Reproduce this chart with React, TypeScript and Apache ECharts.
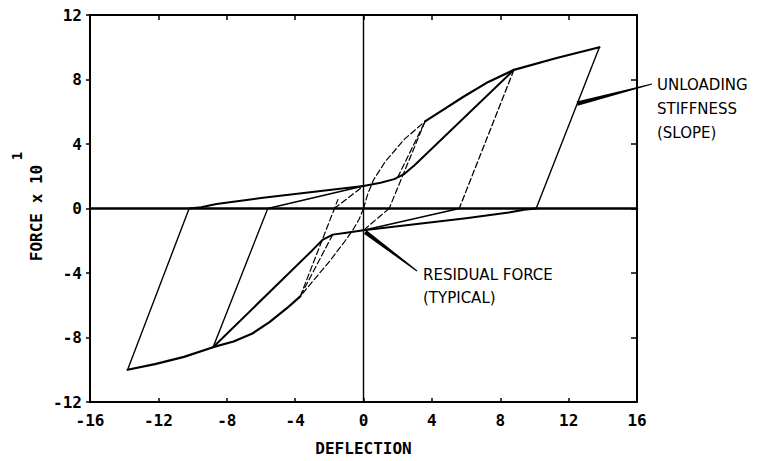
import React, { useEffect, useRef } from "react";
import * as echarts from "echarts";

// Axis ranges
const xRange = [-16, 16];
const yRange = [-12, 12];
const tickStep = 4;

// Reference lines through the origin
const zeroLineH = [[-16, 0], [16, 0]];
const zeroLineV = [[0, -12], [0, 12]];

// Backbone (envelope) curves: initial part (first small cycle) and outer part
const backbonePosInitial = [[0, 0], [0.25, 0.9], [0.6, 1.8], [1.3, 2.95], [2.4, 4.3], [3.6, 5.4]];
const backbonePos = [[3.6, 5.4], [4.7, 6.15], [5.8, 6.9], [7.3, 7.85], [8.8, 8.6], [11.3, 9.33], [13.8, 10]];
const backboneNegInitial = [[0, 0], [-0.25, -0.65], [-0.6, -1.3], [-1.0, -1.9], [-2.0, -3.3], [-3.0, -4.55], [-3.7, -5.45]];
const backboneNeg = [[-3.7, -5.45], [-4.5, -6.2], [-5.5, -7.05], [-6.5, -7.75], [-7.6, -8.25], [-8.8, -8.6], [-10.5, -9.2], [-12.2, -9.65], [-13.8, -10]];

// Unloading branches (from peaks to zero force)
const unloadPosBig = [[13.8, 10], [10.1, 0]];
const unloadPosMid = [[8.8, 8.6], [5.6, 0]];
const unloadPosSmall = [[3.6, 5.4], [1.5, 0]];
const unloadNegBig = [[-13.8, -10], [-10.2, 0]];
const unloadNegMid = [[-8.8, -8.6], [-5.6, 0]];
const unloadNegSmall = [[-3.7, -5.45], [-1.7, 0], [-1.5, 0.55]];

// Reloading towards residual force (positive side)
const toPosResidualBig = [[-10.2, 0], [-9.5, 0.08], [-8.6, 0.28], [-6, 0.65], [-3, 1.02], [0, 1.4]];
const toPosResidualMid = [[-5.6, 0], [0, 1.4]];
const toPosResidualSmall = [[-1.7, 0], [0, 1.4]];
const posReloadPath = [[0, 1.4], [1.0, 1.6], [1.8, 1.82], [2.4, 2.15], [3.0, 2.7], [8.8, 8.6]];
const smallReloadPos = [[2.0, 1.93], [3.6, 5.4]];

// Reloading towards residual force (negative side)
const toNegResidualBig = [[10.1, 0], [9.4, -0.08], [8.5, -0.25], [6, -0.6], [3, -0.98], [0, -1.35]];
const toNegResidualMid = [[5.6, 0], [0, -1.35]];
const toNegResidualSmall = [[1.5, 0], [0, -1.35]];
const negReloadPath = [[0, -1.35], [-1.0, -1.5], [-1.8, -1.62], [-2.4, -1.95], [-3.0, -2.6], [-8.8, -8.6]];
const smallReloadNeg = [[-1.8, -1.62], [-3.7, -5.45]];

// Annotation anchor points (data coordinates)
const unloadingAnchor = [12.5, 6.5];
const residualAnchor = [0.1, -1.45];

const MONO = '"DejaVu Sans Mono", monospace';
const SANS = '"DejaVu Sans", sans-serif';

function ln(data: number[][], width: number, dashed = false) {
  return {
    type: "line",
    data,
    showSymbol: false,
    silent: true,
    z: 3,
    lineStyle: { color: "#000", width, type: dashed ? [6, 3] : "solid", cap: "round", join: "round" },
  };
}

function wedge(from: number[], to: number[], w0: number, w1: number) {
  const dx = to[0] - from[0];
  const dy = to[1] - from[1];
  const len = Math.sqrt(dx * dx + dy * dy) || 1;
  const nx = -dy / len;
  const ny = dx / len;
  return [
    [from[0] + nx * w0, from[1] + ny * w0],
    [to[0] + nx * w1, to[1] + ny * w1],
    [to[0] - nx * w1, to[1] - ny * w1],
    [from[0] - nx * w0, from[1] - ny * w0],
  ];
}

export default function App() {
  const ref = useRef<HTMLDivElement>(null);
  useEffect(() => {
    const chart = echarts.init(ref.current!, null, { renderer: "svg" });
    const axisLine = { show: true, onZero: false, lineStyle: { color: "#000", width: 2 } };
    const tickLabel = { color: "#000", fontFamily: MONO, fontWeight: "bold", fontSize: 16 };
    chart.setOption({
      animation: false,
      backgroundColor: "#fff",
      grid: { left: 90, top: 15, right: 123, bottom: 57 },
      xAxis: [
        {
          type: "value", min: xRange[0], max: xRange[1], interval: tickStep, position: "bottom",
          axisLine, axisTick: { show: true, inside: true, length: 4, lineStyle: { color: "#000", width: 1.5 } },
          axisLabel: { ...tickLabel, margin: 10 }, splitLine: { show: false },
          name: "DEFLECTION", nameLocation: "middle", nameGap: 38,
          nameTextStyle: { color: "#000", fontFamily: MONO, fontWeight: "bold", fontSize: 16 },
        },
        {
          type: "value", min: xRange[0], max: xRange[1], interval: tickStep, position: "top",
          axisLine, axisTick: { show: true, inside: true, length: 5, lineStyle: { color: "#000", width: 1.5 } },
          axisLabel: { show: false }, splitLine: { show: false },
        },
      ],
      yAxis: [
        {
          type: "value", min: yRange[0], max: yRange[1], interval: tickStep, position: "left",
          axisLine, axisTick: { show: true, inside: false, length: 4, lineStyle: { color: "#000", width: 1.5 } },
          axisLabel: { ...tickLabel, margin: 8 }, splitLine: { show: false },
        },
        {
          type: "value", min: yRange[0], max: yRange[1], interval: tickStep, position: "right",
          axisLine, axisTick: { show: true, inside: true, length: 6, lineStyle: { color: "#000", width: 1.5 } },
          axisLabel: { show: false }, splitLine: { show: false },
        },
      ],
      series: [
        ln(zeroLineH, 2.4),
        ln(zeroLineV, 1.4),
        ln(backbonePosInitial, 1.2, true),
        ln(backbonePos, 2.2),
        ln(backboneNegInitial, 1.2, true),
        ln(backboneNeg, 2.2),
        ln(unloadPosBig, 1.4),
        ln(unloadPosMid, 1.3, true),
        ln(unloadPosSmall, 1.2, true),
        ln(unloadNegBig, 1.4),
        ln(unloadNegMid, 1.4),
        ln(unloadNegSmall, 1.2, true),
        ln(toPosResidualBig, 2),
        ln(toPosResidualMid, 1.6),
        ln(toPosResidualSmall, 1.2, true),
        ln(posReloadPath, 2),
        ln(smallReloadPos, 1.2, true),
        ln(toNegResidualBig, 2),
        ln(toNegResidualMid, 1.6),
        ln(toNegResidualSmall, 1.2, true),
        ln(negReloadPath, 2),
        ln(smallReloadNeg, 1.2, true),
      ],
    });

    const pU = chart.convertToPixel({ gridIndex: 0 }, unloadingAnchor) as number[];
    const pR = chart.convertToPixel({ gridIndex: 0 }, residualAnchor) as number[];
    const uStart = [652, 84];
    const rEnd = [417, 271];

    chart.setOption({
      graphic: [
        { type: "text", x: 36, y: 213, rotation: Math.PI / 2, style: { text: "FORCE x 10", font: `bold 16px ${MONO}`, fill: "#000", align: "center", verticalAlign: "middle" } },
        { type: "text", x: 17, y: 156, rotation: Math.PI / 2, style: { text: "1", font: `bold 14px ${MONO}`, fill: "#000", align: "center", verticalAlign: "middle" } },
        { type: "text", x: 657, y: 85, style: { text: "UNLOADING", font: `15px ${SANS}`, fill: "#000", align: "left", verticalAlign: "middle" } },
        { type: "text", x: 657, y: 109, style: { text: "STIFFNESS", font: `15px ${SANS}`, fill: "#000", align: "left", verticalAlign: "middle" } },
        { type: "text", x: 657, y: 133, style: { text: "(SLOPE)", font: `15px ${SANS}`, fill: "#000", align: "left", verticalAlign: "middle" } },
        { type: "text", x: 423, y: 275, style: { text: "RESIDUAL FORCE", font: `15px ${SANS}`, fill: "#000", align: "left", verticalAlign: "middle" } },
        { type: "text", x: 423, y: 298, style: { text: "(TYPICAL)", font: `15px ${SANS}`, fill: "#000", align: "left", verticalAlign: "middle" } },
        { type: "polygon", shape: { points: wedge(uStart, pU, 0.6, 2.2) }, style: { fill: "#000" } },
        { type: "polygon", shape: { points: wedge(rEnd, pR, 0.6, 2.2) }, style: { fill: "#000" } },
      ],
    });
    return () => chart.dispose();
  }, []);
  return <div ref={ref} style={{ position: "absolute", left: 0, top: 0, width: 760, height: 461, background: "#fff" }} />;
}
